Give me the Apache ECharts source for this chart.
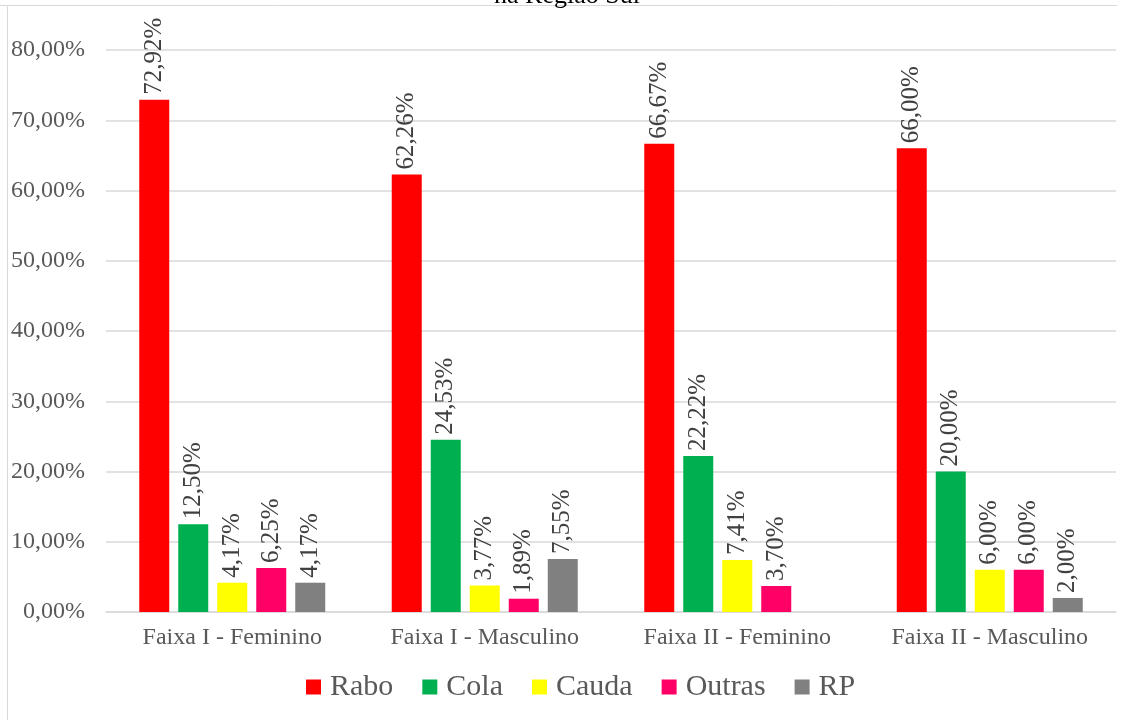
<!DOCTYPE html>
<html><head><meta charset="utf-8">
<script src="https://cdn.jsdelivr.net/npm/echarts@6/dist/echarts.min.js"></script>
<style>html,body{margin:0;padding:0;background:#fff}#c{width:1134px;height:720px}</style>
</head><body><div id="c"></div>
<script>
const categories = ['Faixa I - Feminino','Faixa I - Masculino','Faixa II - Feminino','Faixa II - Masculino'];
const seriesNames = ['Rabo','Cola','Cauda','Outras','RP'];
const rabo = [72.92, 62.26, 66.67, 66.00];
const cola = [12.50, 24.53, 22.22, 20.00];
const cauda = [4.17, 3.77, 7.41, 6.00];
const outras = [6.25, 1.89, 3.70, 6.00];
const rp = [4.17, 7.55, null, 2.00];
const colors = ['#ff0000','#00b050','#ffff00','#ff0066','#808080'];
const yTicks = [0,10,20,30,40,50,60,70,80];

const font = '"Liberation Serif", "Times New Roman", serif';
const fmt = v => v.toFixed(2).replace('.', ',') + '%';
const data = [rabo, cola, cauda, outras, rp];

const chart = echarts.init(document.getElementById('c'));
chart.setOption({
  animation: false,
  title: { text: 'na Região Sul', left: 'center', top: -22,
    textStyle: { fontFamily: font, fontSize: 26, fontWeight: 'normal', color: '#000' } },
  graphic: [
    { type: 'line', shape: { x1: 7.5, y1: 5.5, x2: 7.5, y2: 720 }, style: { stroke: '#d9d9d9', lineWidth: 1 } },
    { type: 'line', shape: { x1: 0, y1: 5.5, x2: 1117, y2: 5.5 }, style: { stroke: '#d9d9d9', lineWidth: 1 } }
  ],
  grid: { left: 106, right: 18, top: 50, bottom: 108, containLabel: false },
  legend: {
    top: 667, left: 301, itemWidth: 15, itemHeight: 15, itemGap: 29,
    icon: 'rect',
    textStyle: { fontFamily: font, fontSize: 30, color: '#595959', padding: [0, 0, 0, 4] },
    data: seriesNames
  },
  xAxis: {
    type: 'category', data: categories,
    axisLine: { lineStyle: { color: '#d9d9d9', width: 1.5 } },
    axisTick: { show: false },
    axisLabel: { interval: 0, fontFamily: font, fontSize: 24, color: '#595959', margin: 14 }
  },
  yAxis: {
    type: 'value', min: 0, max: 80, interval: 10,
    axisLabel: { fontFamily: font, fontSize: 24, color: '#595959', margin: 21,
      formatter: v => yTicks.includes(v) ? v.toFixed(2).replace('.', ',') + '%' : '' },
    splitLine: { lineStyle: { color: '#d9d9d9', width: 1.5 } },
    axisLine: { show: false }, axisTick: { show: false }
  },
  series: seriesNames.map((n, i) => ({
    name: n, type: 'bar', data: data[i], barWidth: 30, barGap: '30%',
    itemStyle: { color: colors[i] },
    label: {
      show: true, position: 'top', rotate: 90, align: 'left', verticalAlign: 'middle',
      distance: 5, fontFamily: font, fontSize: 25, color: '#404040',
      formatter: p => p.value == null ? '' : fmt(p.value)
    }
  }))
});
</script></body></html>
